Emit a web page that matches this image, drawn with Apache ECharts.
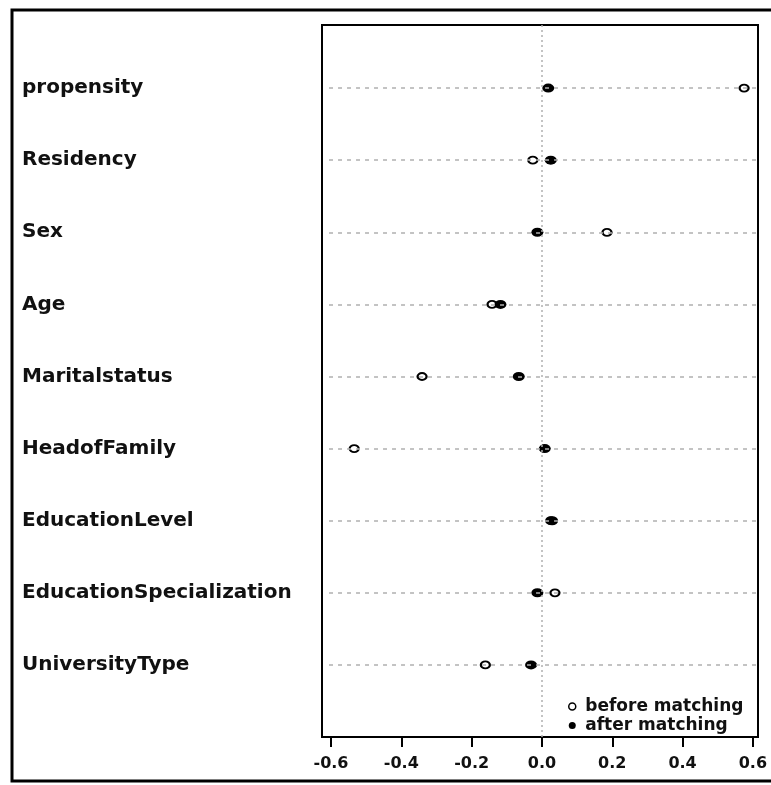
<!DOCTYPE html>
<html>
<head>
<meta charset="utf-8">
<script src="https://cdn.jsdelivr.net/npm/echarts@6/dist/echarts.min.js"></script>
<style>
html, body { margin: 0; padding: 0; background: #fff; }
#chart { width: 771px; height: 785px; }
</style>
</head>
<body>
<div id="chart"></div>
<script>
// rows from top to bottom
const variables = ['propensity', 'Residency', 'Sex', 'Age', 'Maritalstatus', 'HeadofFamily',
    'EducationLevel', 'EducationSpecialization', 'UniversityType'];
const beforeMatching = [0.575, -0.026, 0.185, -0.142, -0.341, -0.534, 0.025, 0.037, -0.161];
const afterMatching = [0.018, 0.025, -0.013, -0.118, -0.066, 0.008, 0.029, -0.013, -0.031];
const xTicks = [-0.6, -0.4, -0.2, 0, 0.2, 0.4, 0.6];

const FONT = 'DejaVu Sans';
const X_MIN = -0.6256;
const X_MAX = 0.6145;
const rowPos = variables.map((v, i) => variables.length - i);

const chart = echarts.init(document.getElementById('chart'));

// dashed guide for each row, dotted guide at zero
const guideLines = rowPos.map(p => [
    { coord: [X_MIN + 0.02, p], lineStyle: { color: '#b0b0b0', width: 1.5, type: [4, 5] } },
    { coord: [X_MAX - 0.005, p] }
]);
guideLines.push([
    { coord: [0, 0], lineStyle: { color: '#b0b0b0', width: 1.5, type: [2, 3] } },
    { coord: [0, 9.875] }
]);

const option = {
    animation: false,
    backgroundColor: '#fff',
    graphic: [{
        type: 'rect',
        shape: { x: 12, y: 10, width: 790, height: 771 },
        style: { fill: 'none', stroke: '#000', lineWidth: 3 },
        silent: true
    }],
    grid: {
        left: 322, right: 13, top: 25, bottom: 48,
        show: true, borderColor: '#000', borderWidth: 2
    },
    xAxis: {
        type: 'value',
        min: X_MIN,
        max: X_MAX,
        axisLine: { show: true, lineStyle: { color: '#000', width: 2 } },
        axisTick: { show: true, customValues: xTicks, length: 10, lineStyle: { color: '#000', width: 2 } },
        axisLabel: {
            customValues: xTicks,
            formatter: v => v.toFixed(1),
            margin: 19,
            color: '#111',
            fontFamily: FONT,
            fontWeight: 'bold',
            fontSize: 16
        },
        splitLine: { show: false }
    },
    yAxis: {
        type: 'value',
        min: 0,
        max: 9.875,
        axisLine: { show: false },
        axisTick: { show: false },
        splitLine: { show: false },
        axisLabel: {
            customValues: rowPos,
            formatter: v => variables[variables.length - Math.round(v)],
            align: 'left',
            margin: 300,
            color: '#111',
            fontFamily: FONT,
            fontWeight: 'bold',
            fontSize: 20
        }
    },
    legend: {
        orient: 'vertical',
        left: 563,
        top: 693,
        itemWidth: 8,
        itemHeight: 7,
        itemGap: 2,
        selectedMode: false,
        textStyle: { fontFamily: FONT, fontWeight: 'bold', fontSize: 17, color: '#111', lineHeight: 15, padding: [0, 0, 0, 4] },
        data: [
            { name: 'before matching', icon: 'circle', itemStyle: { color: '#fff', borderColor: '#000', borderWidth: 1.5, opacity: 1 } },
            { name: 'after matching', icon: 'circle', itemStyle: { color: '#000', borderWidth: 0, opacity: 1 } }
        ]
    },
    series: [
        {
            // reference lines only
            name: 'guides',
            type: 'scatter',
            data: [],
            z: 1,
            markLine: {
                silent: true,
                symbol: 'none',
                label: { show: false },
                data: guideLines
            }
        },
        {
            name: 'before matching',
            type: 'scatter',
            z: 2,
            symbol: 'circle',
            symbolSize: [9, 7],
            itemStyle: { color: '#fff', borderColor: '#000', borderWidth: 2, opacity: 1 },
            data: beforeMatching.map((x, i) => [x, rowPos[i]])
        },
        {
            name: 'after matching',
            type: 'scatter',
            z: 3,
            symbol: 'circle',
            symbolSize: [12, 9],
            itemStyle: { color: '#000', opacity: 1 },
            data: afterMatching.map((x, i) => [x, rowPos[i]])
        }
    ]
};

chart.setOption(option);
</script>
</body>
</html>
